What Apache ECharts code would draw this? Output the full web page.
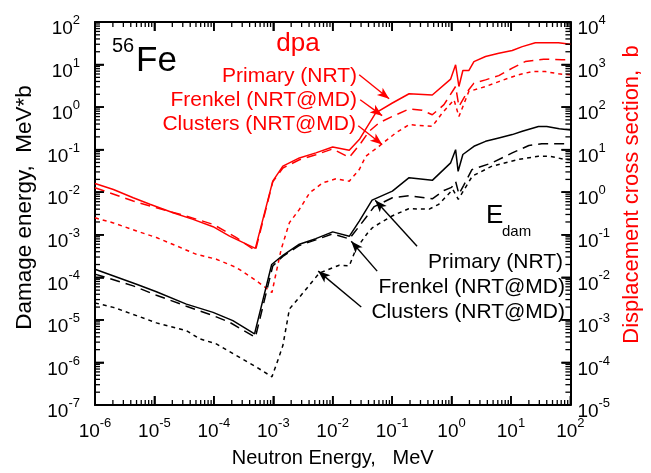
<!DOCTYPE html>
<html><head><meta charset="utf-8">
<script src="https://cdn.jsdelivr.net/npm/echarts@6/dist/echarts.min.js"></script>
<style>html,body{margin:0;padding:0;background:#fff}#c{width:651px;height:473px}</style>
</head><body><div id="c"></div>
<script>
// ---- tick labels (exponents of 10) ----
const xTickExps = ['-6','-5','-4','-3','-2','-1','0','1','2'];
const yLeftTickExps = ['-7','-6','-5','-4','-3','-2','-1','0','1','2'];
const yRightTickExps = ['-5','-4','-3','-2','-1','0','1','2','3','4'];
const minorMultipliers = [2, 3, 4, 5, 6, 7, 8, 9];

// ---- Damage energy, MeV*b (left axis) : [neutron energy MeV, value] ----
const edamPrimary = [
 [1e-6,1.55e-4],[5e-6,6.9e-5],[1.08e-5,4.6e-5],[3.45e-5,2.35e-5],[9.7e-5,1.5e-5],[2.09e-4,9.6e-6],[4.84e-4,4.7e-6],
 [9.4e-4,2.0e-4],[1.45e-3,3.3e-4],[2.75e-3,6.0e-4],[5.2e-3,8.1e-4],[1.0e-2,1.17e-3],[1.9e-2,9.2e-4],[2.8e-2,2.1e-3],
 [4.6e-2,6.5e-3],[0.101,1.06e-2],[0.193,2.2e-2],[0.474,1.9e-2],[0.966,4.9e-2],[1.17,0.100],[1.29,0.031],[1.55,0.077],
 [2.38,0.12],[3.73,0.157],[6.24,0.189],[10.5,0.226],[15.5,0.27],[29,0.35],[40,0.35],[65,0.31],[100,0.29]
];
const edamFrenkel = [
 [1e-6,1.19e-4],[4.4e-6,6.3e-5],[1.08e-5,3.8e-5],[3.45e-5,2.1e-5],[9.7e-5,1.26e-5],[1.84e-4,8.8e-6],[5.0e-4,3.9e-6],
 [9.8e-4,1.85e-4],[1.45e-3,3.1e-4],[2.75e-3,5.6e-4],[5.2e-3,7.6e-4],[1.0e-2,1.05e-3],[1.9e-2,8.0e-4],[3.0e-2,1.8e-3],
 [5.0e-2,4.6e-3],[0.101,7.4e-3],[0.193,8.3e-3],[0.474,7.0e-3],[0.745,1.1e-2],[1.0,1.3e-2],[1.17,1.8e-2],[1.33,9e-3],
 [1.6,1.45e-2],[2.2,3.4e-2],[4.8,4.9e-2],[10.5,8.4e-2],[20,0.125],[33,0.137],[100,0.137]
];
const edamClusters = [
 [1e-6,2.5e-5],[2.04e-6,1.97e-5],[5e-6,1.26e-5],[1.08e-5,8.5e-6],[3.45e-5,5.6e-6],[5.75e-5,3.6e-6],[1.1e-4,2.73e-6],
 [2.4e-4,1.45e-6],[5.2e-4,7.8e-7],[9.5e-4,4.6e-7],[1.27e-3,1.44e-6],[1.45e-3,2.5e-6],[1.87e-3,1.8e-5],[2.75e-3,3.4e-5],
 [5.96e-3,1.26e-4],[1.29e-2,1.93e-4],[1.9e-2,1.86e-4],[2.46e-2,4.6e-4],[3.9e-2,1.12e-3],[4.7e-2,1.48e-3],[0.10,2.77e-3],
 [0.19,4.1e-3],[0.42,4.0e-3],[0.61,5.2e-3],[1.05,1.16e-2],[1.3,6.8e-3],[2.24,2.4e-2],[4.8,4.1e-2],[13.5,5.9e-2],
 [29,7.0e-2],[45,7.0e-2],[81,5.9e-2],[100,5.8e-2]
];

// ---- Displacement cross section, b (right axis) ----
const dpaPrimary = [
 [1e-6,1.61],[2.04e-6,1.16],[4.4e-6,0.74],[8.4e-6,0.52],[2.06e-5,0.33],[4.47e-5,0.23],[9.7e-5,0.155],[1.84e-4,0.093],
 [5.0e-4,0.048],[9.8e-4,1.82],[1.45e-3,4.1],[2.75e-3,6.4],[5.2e-3,8.4],[1.0e-2,11.6],[1.9e-2,9.7],[2.8e-2,17.3],
 [5.3e-2,72.8],[0.101,125],[0.193,206],[0.474,192],[0.966,455],[1.17,984],[1.33,305],[1.55,724],[1.95,724],
 [2.38,1175],[3.73,1550],[6.24,1850],[10.5,2140],[15.5,2640],[25.7,3270],[63,3270],[100,3000]
];
const dpaFrenkel = [
 [1e-6,1.27],[4.4e-6,0.62],[1.08e-5,0.43],[3.45e-5,0.275],[9.7e-5,0.176],[2.4e-4,0.086],[5.0e-4,0.042],
 [9.8e-4,1.75],[1.45e-3,3.7],[2.75e-3,5.8],[5.2e-3,7.6],[1.0e-2,10.4],[1.9e-2,6.6],[3.0e-2,14.5],[4.1e-2,27],
 [6.0e-2,42.5],[0.101,60.5],[0.193,90],[0.32,84],[0.474,66],[0.745,114],[1.17,305],[1.33,104],[1.95,257],
 [2.38,366],[3.73,436],[6.24,550],[10.5,824],[17.4,1175],[35.5,1340],[72,1290],[100,1290]
];
const dpaClusters = [
 [1e-6,0.25],[2.04e-6,0.19],[5e-6,0.123],[1.08e-5,0.086],[2.34e-5,0.055],[5.0e-5,0.035],[1.1e-4,0.0267],
 [2.4e-4,0.017],[5.2e-4,0.0083],[9.5e-4,4.4e-3],[1.12e-3,0.013],[1.36e-3,0.046],[1.87e-3,0.193],[2.75e-3,0.395],
 [4.1e-3,0.97],[6.8e-3,1.66],[1.14e-2,2.07],[1.9e-2,1.82],[2.8e-2,3.4],[3.6e-2,7.0],[6.0e-2,12],[0.115,24.7],
 [0.193,38.7],[0.474,35.3],[0.70,73],[1.10,148],[1.33,60],[1.95,233],[3.73,305],[6.24,398],[9.1,480],[13.5,575],
 [22.6,686],[38,686],[63,605],[100,575]
];

// ---- annotation arrows (data coordinates: [from, to]) ----
const redArrows = [
 [[0.0279,574],[0.089,157]],
 [[0.029,149],[0.0679,63]],
 [[0.0269,36.6],[0.068,13.2]]
];
const blackArrows = [
 [[0.263,5.37e-4],[0.0519,6.45e-3]],
 [[0.056,1.4e-4],[0.0205,7.05e-4]],
 [[0.0302,2.0e-5],[0.0057,1.4e-4]]
];

const FONT = "'Liberation Sans', Arial, Helvetica, sans-serif";
const RED = '#ff0000';
const BLACK = '#000000';

// tick positions for the log axes: decades (major) and 2..9 x 10^k (minor)
const xDecades = xTickExps.map(Number);
const yDecades = yLeftTickExps.map(Number);
const xTicks = [];
xDecades.forEach(function (k, i) {
  xTicks.push([Math.pow(10, k), 1, 1]);
  if (i < xDecades.length - 1) minorMultipliers.forEach(function (m) { xTicks.push([m * Math.pow(10, k), 1, 0]); });
});
const yTicks = [];
yDecades.forEach(function (k, i) {
  yTicks.push([1e-3, Math.pow(10, k), 1]);
  if (i < yDecades.length - 1) minorMultipliers.forEach(function (m) { yTicks.push([1e-3, m * Math.pow(10, k), 0]); });
});

function expLabel(list) {
  return function (v) {
    const e = String(Math.round(Math.log10(v)));
    if (list.indexOf(e) < 0) return '';
    return '{b|10}{s|' + e + '}';
  };
}
const richTick = {
  b: { fontSize: 19, lineHeight: 30, fontFamily: FONT, color: BLACK },
  s: { fontSize: 13, lineHeight: 16, fontFamily: FONT, color: BLACK, verticalAlign: 'top' }
};
function axisCommon() {
  return {
    axisLine: { show: true, onZero: false, lineStyle: { color: BLACK, width: 2 } },
    axisTick: { show: true, inside: true, length: 9, lineStyle: { color: BLACK, width: 1.6 } },
    splitLine: { show: false }
  };
}

function markArrows(list, color) {
  return {
    silent: true,
    symbol: ['none', 'arrow'],
    symbolSize: [7, 12],
    label: { show: false },
    lineStyle: { color: color, width: 1.4, type: 'solid' },
    itemStyle: { color: color },
    data: list.map(function (a) { return [{ coord: a[0] }, { coord: a[1] }]; })
  };
}

function lineSeries(name, data, color, type, yIdx, marks) {
  const s = {
    name: name, type: 'line', data: data, yAxisIndex: yIdx, xAxisIndex: 0,
    symbol: 'none', smooth: false,
    lineStyle: { color: color, width: 1.5, type: type }
  };
  if (marks) s.markLine = marks;
  return s;
}

const MAJOR_LEN = 9, MINOR_LEN = 5;
function tickLine(x1, y1, x2, y2, w) {
  return { type: 'line', shape: { x1: x1, y1: y1, x2: x2, y2: y2 }, style: { stroke: BLACK, lineWidth: w, lineDash: null } };
}
function renderXTicks(params, api) {
  const cs = params.coordSys;
  const px = api.coord([api.value(0), api.value(1)])[0];
  const major = api.value(2) === 1;
  const len = major ? MAJOR_LEN : MINOR_LEN, w = major ? 1.6 : 1.3;
  const yb = cs.y + cs.height, yt = cs.y;
  return { type: 'group', children: [ tickLine(px, yb, px, yb - len, w), tickLine(px, yt, px, yt + len, w) ] };
}
function renderYTicks(params, api) {
  const cs = params.coordSys;
  const py = api.coord([api.value(0), api.value(1)])[1];
  const major = api.value(2) === 1;
  const len = major ? MAJOR_LEN : MINOR_LEN, w = major ? 1.6 : 1.3;
  const xl = cs.x, xr = cs.x + cs.width;
  return { type: 'group', children: [ tickLine(xl, py, xl + len, py, w), tickLine(xr, py, xr - len, py, w) ] };
}

function txt(x, y, text, size, color, align) {
  return { type: 'text', x: x, y: y, silent: true, z: 10,
    style: { text: text, fontSize: size, fontFamily: FONT, fill: color,
      textAlign: align, textVerticalAlign: 'middle', align: align, verticalAlign: 'middle' } };
}

const chart = echarts.init(document.getElementById('c'), null, { renderer: 'canvas' });
chart.setOption({
  animation: false,
  backgroundColor: '#ffffff',
  grid: { left: 95, right: 79, top: 22, bottom: 66, containLabel: false },
  xAxis: [
    Object.assign({
      type: 'log', logBase: 10, min: 1e-6, max: 1e2, position: 'bottom',
      name: 'Neutron Energy,   MeV', nameLocation: 'middle', nameGap: 43,
      nameTextStyle: { fontSize: 20, fontFamily: FONT, color: BLACK },
      axisLabel: { margin: 12, formatter: expLabel(xTickExps), rich: richTick, showMinLabel: true, showMaxLabel: true }
    }, axisCommon()),
    Object.assign({
      type: 'log', logBase: 10, min: 1e-6, max: 1e2, position: 'top',
      axisLabel: { show: false }
    }, axisCommon())
  ],
  yAxis: [
    Object.assign({
      type: 'log', logBase: 10, min: 1e-7, max: 1e2, position: 'left',
      name: 'Damage energy,  MeV*b', nameLocation: 'middle', nameGap: 58, nameRotate: 90,
      nameTextStyle: { fontSize: 22.5, fontFamily: FONT, color: BLACK, padding: [0, 0, 0, 12] },
      axisLabel: { margin: 15, formatter: expLabel(yLeftTickExps), rich: richTick, padding: [14, 0, 0, 0], showMinLabel: true, showMaxLabel: true }
    }, axisCommon()),
    Object.assign({
      type: 'log', logBase: 10, min: 1e-5, max: 1e4, position: 'right',
      name: 'Displacement cross section,  b', nameLocation: 'middle', nameGap: 46, nameRotate: 90,
      nameTextStyle: { fontSize: 22, fontFamily: FONT, color: RED, padding: [0, 0, 0, 38] },
      axisLabel: { margin: 7, formatter: expLabel(yRightTickExps), rich: richTick, padding: [14, 0, 0, 0], showMinLabel: true, showMaxLabel: true }
    }, axisCommon())
  ],
  series: [
    { type: 'custom', coordinateSystem: 'cartesian2d', xAxisIndex: 0, yAxisIndex: 0, data: xTicks, renderItem: renderXTicks, clip: false, silent: true, z: 50, zlevel: 1 },
    { type: 'custom', coordinateSystem: 'cartesian2d', xAxisIndex: 0, yAxisIndex: 0, data: yTicks, renderItem: renderYTicks, clip: false, silent: true, z: 50, zlevel: 1 },
    lineSeries('dpa Primary (NRT)', dpaPrimary, RED, 'solid', 1, markArrows(redArrows, RED)),
    lineSeries('dpa Frenkel (NRT@MD)', dpaFrenkel, RED, [10, 6], 1),
    lineSeries('dpa Clusters (NRT@MD)', dpaClusters, RED, [4, 4], 1),
    lineSeries('Edam Primary (NRT)', edamPrimary, BLACK, 'solid', 0, markArrows(blackArrows, BLACK)),
    lineSeries('Edam Frenkel (NRT@MD)', edamFrenkel, BLACK, [10, 6], 0),
    lineSeries('Edam Clusters (NRT@MD)', edamClusters, BLACK, [4, 4], 0)
  ],
  graphic: [
    txt(112, 46, '56', 20, BLACK, 'left'),
    txt(136, 61, 'Fe', 35, BLACK, 'left'),
    txt(298, 44, 'dpa', 26, RED, 'center'),
    txt(357, 76, 'Primary (NRT)', 21, RED, 'right'),
    txt(357, 100, 'Frenkel (NRT@MD)', 21, RED, 'right'),
    txt(356, 124, 'Clusters (NRT@MD)', 21, RED, 'right'),
    txt(486, 216, 'E', 26, BLACK, 'left'),
    txt(502, 232, 'dam', 15, BLACK, 'left'),
    txt(563, 262, 'Primary (NRT)', 21, BLACK, 'right'),
    txt(565, 287, 'Frenkel (NRT@MD)', 21, BLACK, 'right'),
    txt(565, 312, 'Clusters (NRT@MD)', 21, BLACK, 'right')
  ]
});
</script>
</body></html>
